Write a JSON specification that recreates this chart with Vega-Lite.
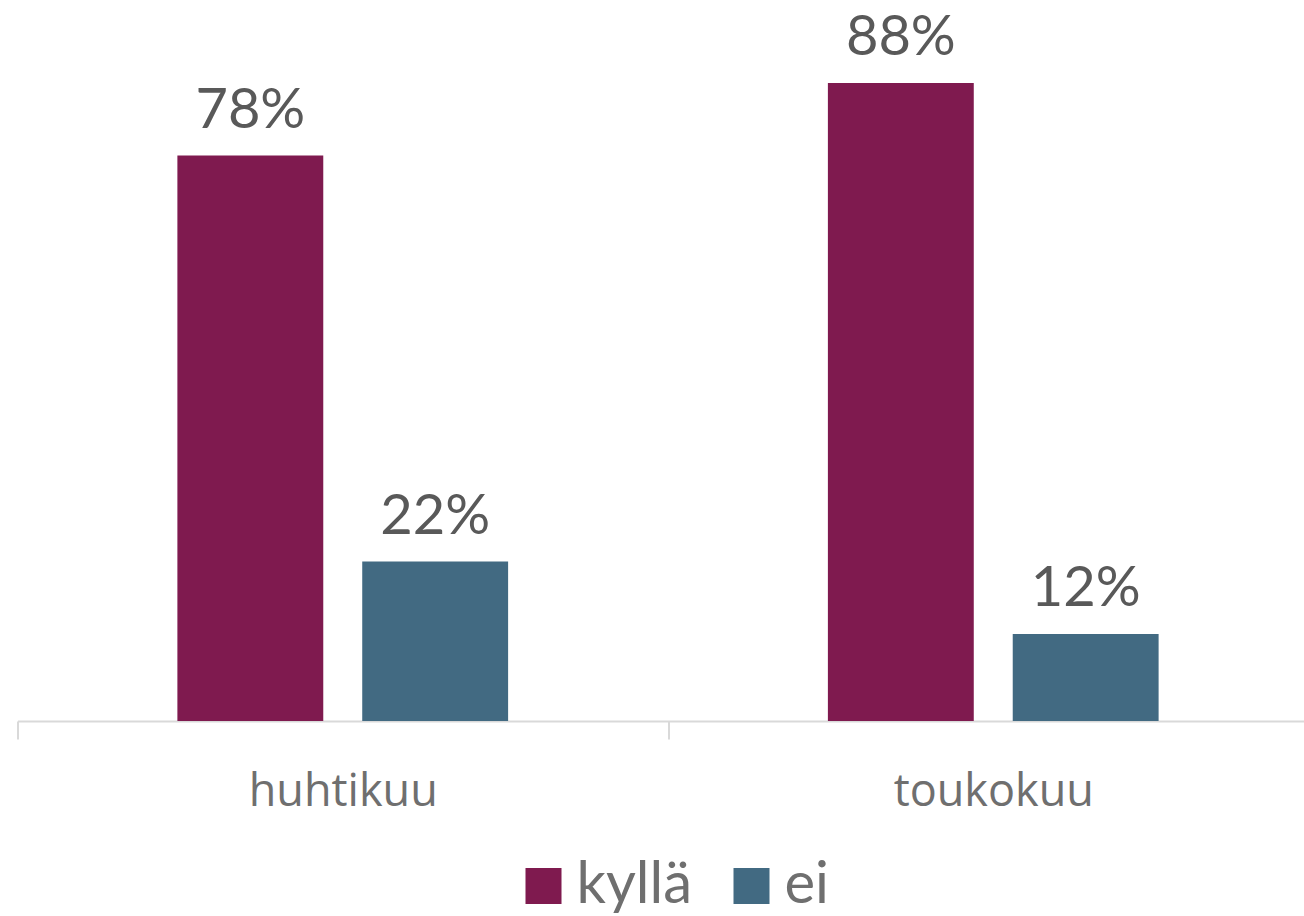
{
  "$schema": "https://vega.github.io/schema/vega-lite/v6.json",
  "autosize": {"type": "none"},
  "width": 1286.5,
  "height": 721,
  "padding": {"left": 17.5, "top": 0, "right": 0, "bottom": 195},
  "background": "white",
  "config": {"view": {"stroke": null}, "font": "Lato"},
  "data": {"values": [
    {"month": "huhtikuu", "series": "kyllä", "value": 0.78, "label": "78%"},
    {"month": "huhtikuu", "series": "ei", "value": 0.22, "label": "22%"},
    {"month": "toukokuu", "series": "kyllä", "value": 0.88, "label": "88%"},
    {"month": "toukokuu", "series": "ei", "value": 0.12, "label": "12%"}
  ]},
  "encoding": {
    "x": {"field": "month", "type": "nominal", "sort": ["huhtikuu", "toukokuu"],
      "scale": {"range": [0, 1301], "paddingInner": 0, "paddingOuter": 0},
      "axis": {"title": null, "labelAngle": 0, "labelFontSize": 45, "labelColor": "#6f6f6f",
        "labelPadding": 30, "labelLimit": 0, "domainColor": "#d9d9d9", "domainWidth": 2, "tickColor": "#d9d9d9",
        "tickWidth": 2, "tickSize": 18, "tickBand": "extent", "labelFont": "Open Sans"}},
    "xOffset": {"field": "series", "type": "nominal", "sort": ["kyllä", "ei"],
      "scale": {"paddingInner": 0.2108, "paddingOuter": 0.865}},
    "y": {"field": "value", "type": "quantitative",
      "scale": {"domain": [0, 0.9945], "nice": false}, "axis": null}
  },
  "layer": [
    {"mark": {"type": "bar"},
      "encoding": {"color": {"field": "series", "type": "nominal", "sort": ["kyllä", "ei"],
        "scale": {"domain": ["kyllä", "ei"], "range": ["#7f1a4f", "#426a82"]},
        "legend": {"title": null, "orient": "none", "legendX": 497, "legendY": 857,
          "direction": "horizontal", "symbolType": "square", "symbolSize": 1296,
          "symbolStrokeWidth": 0, "symbolOpacity": 1, "labelFontSize": 58, "labelColor": "#6f6f6f",
          "labelFont": "Lato", "labelLimit": 0, "columnPadding": 30, "labelOffset": 4}}}},
    {"mark": {"type": "text", "baseline": "alphabetic", "dy": -28, "fontSize": 56, "color": "#595959", "font": "Lato"},
      "encoding": {"text": {"field": "label"}}}
  ]
}
